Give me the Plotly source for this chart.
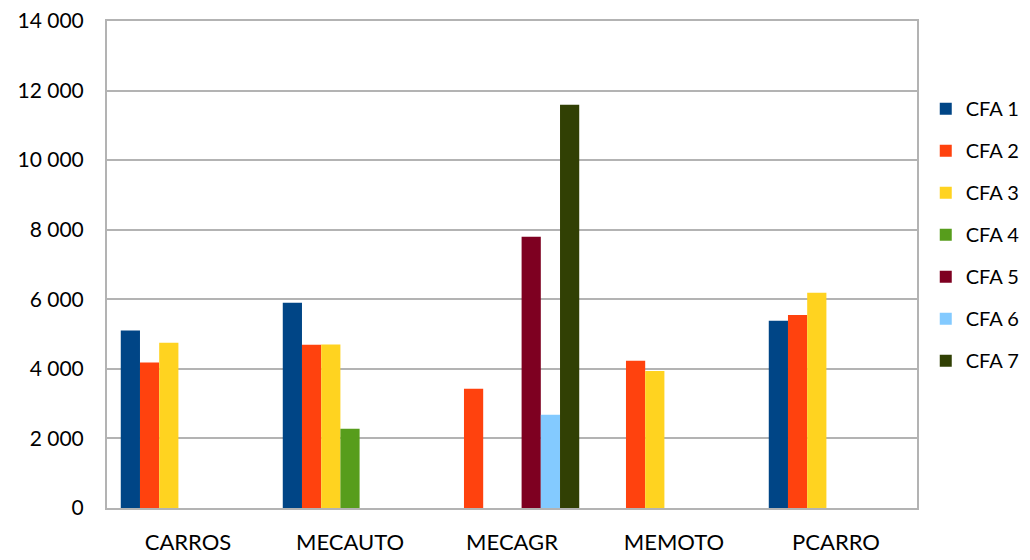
import plotly.graph_objects as go

categories = ["CARROS", "MECAUTO", "MECAGR", "MEMOTO", "PCARRO"]
series_names = ["CFA 1", "CFA 2", "CFA 3", "CFA 4", "CFA 5", "CFA 6", "CFA 7"]
cfa1 = [5100, 5900, None, None, 5380]
cfa2 = [4180, 4690, 3430, 4230, 5550]
cfa3 = [4750, 4700, None, 3940, 6190]
cfa4 = [None, 2280, None, None, None]
cfa5 = [None, None, 7800, None, None]
cfa6 = [None, None, 2680, None, None]
cfa7 = [None, None, 11590, None, None]
colors = ["#004586", "#ff420e", "#ffd320", "#579d1c", "#7e0021", "#83caff", "#314004"]
y_ticks = [0, 2000, 4000, 6000, 8000, 10000, 12000, 14000]
y_labels = ["0", "2 000", "4 000", "6 000", "8 000", "10 000", "12 000", "14 000"]

series = [cfa1, cfa2, cfa3, cfa4, cfa5, cfa6, cfa7]

fig = go.Figure()
for i, (name, vals) in enumerate(zip(series_names, series)):
    fig.add_trace(go.Bar(
        x=categories, y=vals, name=name,
        marker=dict(color=colors[i], line=dict(width=0)),
        legendgroup=name,
    ))

font_family = "Lato, 'Open Sans', sans-serif"
grid_col = "#b3b3b3"
# page body has an 8px margin, so the figure is drawn 8px smaller
W, H = 1022, 552

fig.update_layout(
    width=W, height=H,
    margin=dict(l=0, r=0, t=0, b=0, autoexpand=False),
    barmode="group", bargap=0.17, bargroupgap=0,
    plot_bgcolor="white", paper_bgcolor="white",
    font=dict(family=font_family, size=21, color="#000000"),
    legend=dict(
        x=0.898, y=0.853, xanchor="left", yanchor="top",
        font=dict(family=font_family, size=20, color="#000000"),
        tracegroupgap=13, itemwidth=30,
        bgcolor="rgba(0,0,0,0)",
    ),
    xaxis=dict(
        domain=[99 / W, 909 / W],
        showline=True, linecolor=grid_col, linewidth=2, mirror=True,
        ticks="", ticklabelstandoff=14, automargin=False,
        tickfont=dict(family=font_family, size=22),
    ),
    yaxis=dict(
        domain=[52 / H, 539 / H],
        range=[0, 14000], tickvals=y_ticks, ticktext=y_labels,
        showgrid=True, gridcolor=grid_col, gridwidth=1.5,
        showline=True, linecolor=grid_col, linewidth=2, mirror=True,
        zeroline=False, ticks="", ticklabelstandoff=17, automargin=False,
        ticklabeloverflow="allow",
        tickfont=dict(family=font_family, size=21),
    ),
)

fig.write_html("out.html")
